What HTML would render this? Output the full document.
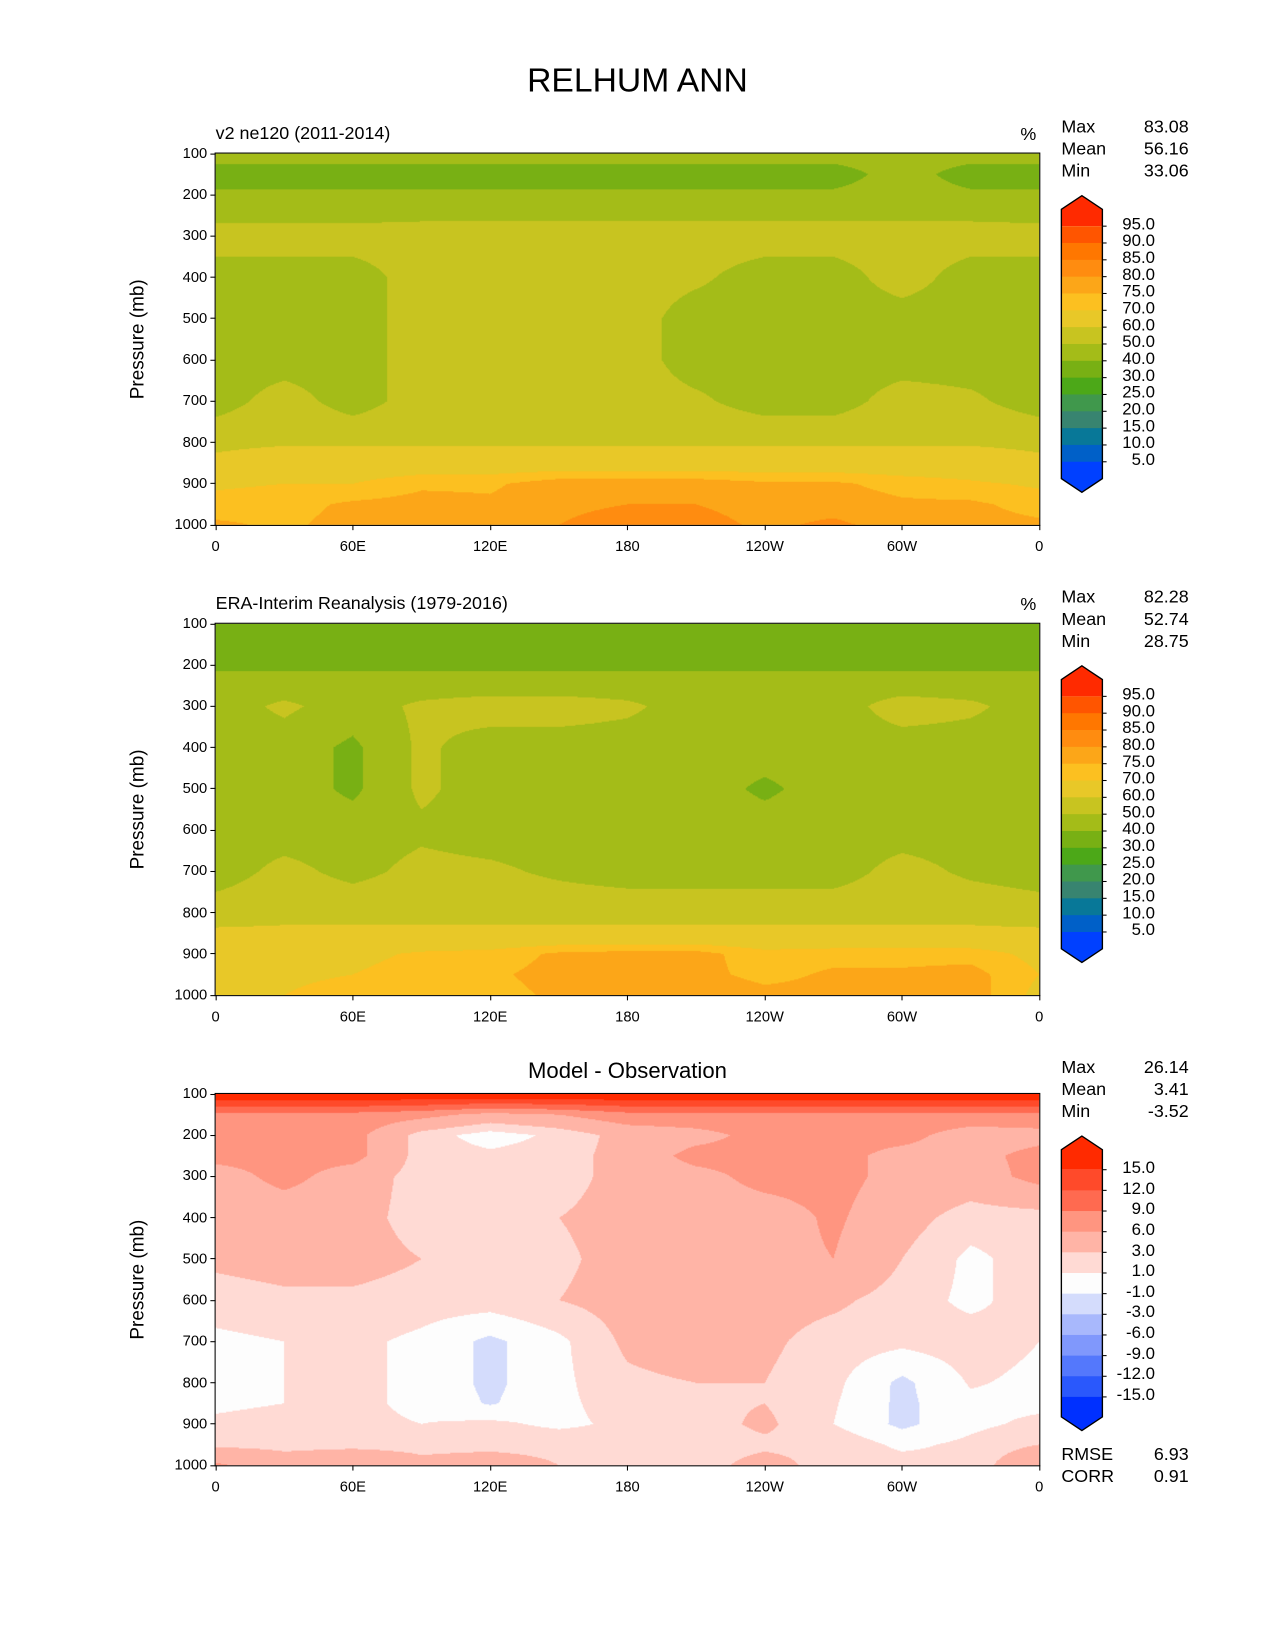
<!DOCTYPE html>
<html><head><meta charset="utf-8">
<style>
body{margin:0;background:#fff;}
#root{position:absolute;left:0;top:0;width:1212px;height:1569px;transform:scale(1.0519);transform-origin:0 0;font-family:"Liberation Sans","DejaVu Sans",sans-serif;color:#000;}
.t{position:absolute;white-space:nowrap;}
canvas{position:absolute;}
.frame{position:absolute;border:1.3px solid #000;box-sizing:border-box;}
</style></head>
<body>
<div id="root">
<div class="t" style="left:0;width:1212px;text-align:center;top:58px;font-size:32px;">RELHUM ANN</div>
</div>
<script>
// ---- data ----
const lons=[0,30,60,90,120,150,180,210,240,270,300,330,360];
const pres=[100,150,200,250,300,400,500,600,700,800,850,900,950,1000];
const modelVals=[
[45,45,45,45,45,45,45,45,45,45,45,45,45],
[35,35,35,35,35,35,35,35,35,35,45,35,35],
[42,42,42,42,42,42,42,42,42,42,45,42,42],
[47,47,47,48,48,48,48,48,48,48,48,48,47],
[55,55,55,55,55,55,55,55,55,55,55,55,55],
[45,45,45,55,55,55,55,52,45,45,55,45,45],
[45,45,45,55,55,55,55,45,45,45,45,45,45],
[45,45,45,55,55,55,55,45,45,45,45,45,45],
[45,55,45,55,55,55,55,52,45,45,55,52,45],
[58,59,59,59,59,59,59,59,59,59,59,59,58],
[62,65,65,65,65,65,65,65,65,65,65,65,62],
[69,70,70,74,74,78,78,78,76,76,73,71,69],
[72,73,76,77,76,79,80,80,78,78,76,76,73],
[76,74,77,78,76,80,82,82,79,81,78,77,76]];
const obsVals=[
[35,35,35,35,35,35,35,35,35,35,35,35,35],
[35,35,35,35,35,35,35,35,35,35,35,35,35],
[38,38,38,38,38,38,38,38,38,38,38,38,38],
[45,45,45,45,45,45,45,45,45,45,45,45,45],
[45,52,45,52,55,55,52,45,45,45,55,52,45],
[45,45,38,52,45,45,45,45,45,45,45,45,45],
[45,45,38,52,45,45,45,45,38,45,45,45,40],
[45,45,45,48,45,45,45,45,45,45,45,45,45],
[45,53,47,53,52,48,45,45,45,45,54,48,45],
[55,57,57,57,57,57,57,57,57,57,57,57,55],
[62,62,62,62,62,62,62,62,62,62,62,62,62],
[65,66,68,71,72,76,77,77,72,73,73,73,68],
[68,69,70,73,74,77,77,77,73,76,76,77,70],
[68,70,72,75,73,76,79,80,77,77,77,78,68]];
const diffVals=[
[18,18,18,18,18,18,18,18,18,18,18,18,18],
[8,8,8,7,5,6,8,8,8,8,8,8,8],
[6.5,7,7,2,0,1.5,4,5,7,7,7,4.5,5],
[7,7,7,2,1.5,2,4,7,7,7,5,5,7],
[4.5,7,4.5,2,2,2,4,5,7,7,5,4.5,7],
[4,4,4,2,2,3,4,4.5,4.5,6.5,4,2,2],
[3.5,4,4,3,2,2.5,4,4,5,6,3,0.5,2],
[2,2.5,2.5,2,2,3,4,5,4,3.5,2,0.5,2],
[0.5,1,1.5,0.5,-1.5,0.5,3.5,4.5,3.5,2,1.5,2,1],
[0.5,1,1.5,0.5,-1.5,0.5,2.5,3,3,1.5,-1.5,1.2,0.5],
[0.5,1,1.5,0.5,-1.2,0.5,2,2.5,3,1.2,-1.5,0.5,0.5],
[1.5,2,1.5,1,1.5,0.5,1.5,2,3.5,1,-1.5,0.5,1.5],
[2.5,2.5,2.5,2.5,2.5,2.5,2,2,2.5,2.5,0.5,1.5,3],
[6.5,4,5,3.5,4,3,2,2,4,2,2,1.5,6]];
const levels1=[5,10,15,20,25,30,40,50,60,70,75,80,85,90,95];
const colors1=['#0040ff','#0060c8','#087898','#388470','#40984c','#4ca818','#78b014','#a4bc18','#c8c420','#e8c828','#fcc020','#fca618','#ff8c10','#ff7700','#ff5500','#ff2a00'];
const levels3=[-15,-12,-9,-6,-3,-1,1,3,6,9,12,15];
const colors3=['#0030ff','#2a58fc','#5478fc','#8098fc','#a8b8fc','#d4dcfc','#fdfdfd','#ffdad4','#ffb4a6','#ff9580','#ff6a50','#ff4a2a','#ff2a00'];
const xTicks=[0,60,120,180,240,300,360];
const xTickLabels=['0','60E','120E','180','120W','60W','0'];
const yTicks=[100,200,300,400,500,600,700,800,900,1000];
const panels=[
 {top:146,vals:modelVals,lev:levels1,col:colors1,title:'v2 ne120 (2011-2014)',center:false,stats:['83.08','56.16','33.06'],labels:['95.0','90.0','85.0','80.0','75.0','70.0','60.0','50.0','40.0','30.0','25.0','20.0','15.0','10.0','5.0'],name:'model'},
 {top:593,vals:obsVals,lev:levels1,col:colors1,title:'ERA-Interim Reanalysis (1979-2016)',center:false,stats:['82.28','52.74','28.75'],labels:['95.0','90.0','85.0','80.0','75.0','70.0','60.0','50.0','40.0','30.0','25.0','20.0','15.0','10.0','5.0'],name:'obs'},
 {top:1040,vals:diffVals,lev:levels3,col:colors3,title:'Model - Observation',center:true,stats:['26.14','3.41','-3.52'],labels:['15.0','12.0','9.0','6.0','3.0','1.0','-1.0','-3.0','-6.0','-9.0','-12.0','-15.0'],name:'diff'}];
// ---- layout ----
const root=document.getElementById('root');
const X0=205,W=783,H=353;
const xScale=l=>X0+l/360*W;
const yScale=(p,top)=>top+(p-100)/900*H;
function txt(name,s,l,t,fs,extra){const d=document.createElement('div');d.className='t';d.textContent=s;


d.style.cssText+=`left:${l}px;top:${t}px;font-size:${fs}px;`+(extra||'');root.appendChild(d);return d;}
function interp(vals,lon,p){
 let i=Math.min(Math.floor(lon/30),11);let fx=(lon-lons[i])/30;
 let j=0;while(j<pres.length-2&&p>pres[j+1])j++;let fy=(p-pres[j])/(pres[j+1]-pres[j]);
 const a=vals[j][i],b=vals[j][i+1],c=vals[j+1][i],d=vals[j+1][i+1];
 return (a*(1-fx)+b*fx)*(1-fy)+(c*(1-fx)+d*fx)*fy;}
function hex(c){return [parseInt(c.substr(1,2),16),parseInt(c.substr(3,2),16),parseInt(c.substr(5,2),16)];}
panels.forEach((P,pi)=>{
 const cv=document.createElement('canvas');cv.width=W;cv.height=H;
 
 
 cv.style.left=X0+'px';cv.style.top=P.top+'px';root.appendChild(cv);
 const ctx=cv.getContext('2d');const img=ctx.createImageData(W,H);
 const rgb=P.col.map(hex);
 for(let y=0;y<H;y++){const p=100+(y+0.5)/H*900;
  for(let x=0;x<W;x++){const lon=(x+0.5)/W*360;const v=interp(P.vals,lon,p);
   let k=0;while(k<P.lev.length&&v>=P.lev[k])k++;const c=rgb[k];const o=(y*W+x)*4;
   img.data[o]=c[0];img.data[o+1]=c[1];img.data[o+2]=c[2];img.data[o+3]=255;}}
 ctx.putImageData(img,0,0);
 const fr=document.createElement('div');fr.className='frame';
 
 
 fr.style.cssText=`left:${X0-1}px;top:${P.top-1}px;width:${W+2}px;height:${H+2}px;`;root.appendChild(fr);
 yTicks.forEach(p=>{const y=yScale(p,P.top);
  const tk=document.createElement('div');tk.style.cssText=`position:absolute;left:${X0-5}px;top:${y-0.5}px;width:5px;height:1px;background:#000`;
  
  
  root.appendChild(tk);
  txt('y-tick-label',String(p),X0-60,y-9,14,'width:52px;text-align:right;');});
 xTicks.forEach((l,k)=>{const x=xScale(l);
  const tk=document.createElement('div');tk.style.cssText=`position:absolute;left:${x-0.5}px;top:${P.top+H}px;width:1px;height:5px;background:#000`;
  
  
  root.appendChild(tk);
  txt('x-tick-label',xTickLabels[k],x-30,P.top+H+12,14,'width:60px;text-align:center;');});
 txt('y-axis-title','Pressure (mb)',131-60,P.top+H/2-11,18,'width:120px;text-align:center;transform:rotate(-90deg);');
 if(P.center) txt('panel-title',P.title,X0,P.top-33,21,`width:${W}px;text-align:center;`);
 else {txt('panel-title',P.title,X0,P.top-29,17);txt('units-label','%',970,P.top-28,17);}
 ['Max','Mean','Min'].forEach((s,k)=>{txt('stat-name',s,1009,P.top-35+k*21,17);
  txt('stat-value',P.stats[k],1060,P.top-35+k*21,17,'width:70px;text-align:right;');});
 const n=P.labels.length;const L=1009,R=1048,M=(L+R)/2;
 let bTop,bBot;if(pi<2){bTop=P.top+69;bBot=P.top+293;}else{bTop=P.top+72;bBot=P.top+288;}
 const step=(bBot-bTop)/(n-1);const ext=pi<2?16:19;const apex=13;
 const ns='http://www.w3.org/2000/svg';const svg=document.createElementNS(ns,'svg');
 svg.setAttribute('width',1212);svg.setAttribute('height',1569);svg.style.cssText='position:absolute;left:0;top:0;pointer-events:none';
 
 
 root.appendChild(svg);
 const cols=P.col.slice().reverse();
 function poly(pts,fill,name){const e=document.createElementNS(ns,'polygon');e.setAttribute('points',pts);e.setAttribute('fill',fill);
  
  
  svg.appendChild(e);}
 poly(`${L},${bTop} ${L},${bTop-ext} ${M},${bTop-ext-apex} ${R},${bTop-ext} ${R},${bTop}`,cols[0],'colorbar-over');
 for(let k=0;k<n-1;k++){const r=document.createElementNS(ns,'rect');r.setAttribute('x',L);r.setAttribute('y',bTop+k*step);r.setAttribute('width',R-L);r.setAttribute('height',step+0.5);r.setAttribute('fill',cols[k+1]);
  
  
  svg.appendChild(r);}
 poly(`${L},${bBot} ${L},${bBot+ext} ${M},${bBot+ext+apex} ${R},${bBot+ext} ${R},${bBot}`,cols[cols.length-1],'colorbar-under');
 const out=document.createElementNS(ns,'polygon');
 out.setAttribute('points',`${L},${bTop-ext} ${M},${bTop-ext-apex} ${R},${bTop-ext} ${R},${bBot+ext} ${M},${bBot+ext+apex} ${L},${bBot+ext}`);
 out.setAttribute('fill','none');out.setAttribute('stroke','#000');out.setAttribute('stroke-width','1.3');
 
 
 svg.appendChild(out);
 P.labels.forEach((s,k)=>{const y=bTop+k*step;
  const tk=document.createElementNS(ns,'line');tk.setAttribute('x1',R);tk.setAttribute('x2',R+4);tk.setAttribute('y1',y);tk.setAttribute('y2',y);tk.setAttribute('stroke','#000');
  
  
  svg.appendChild(tk);
  txt('colorbar-label',s,1050,y-10,16,'width:48px;text-align:right;');});
 if(pi==2){txt('rmse-label','RMSE',1009,1373,17);txt('rmse-value','6.93',1060,1373,17,'width:70px;text-align:right;');
  txt('corr-label','CORR',1009,1394,17);txt('corr-value','0.91',1060,1394,17,'width:70px;text-align:right;');}
});
</script>
</body></html>
